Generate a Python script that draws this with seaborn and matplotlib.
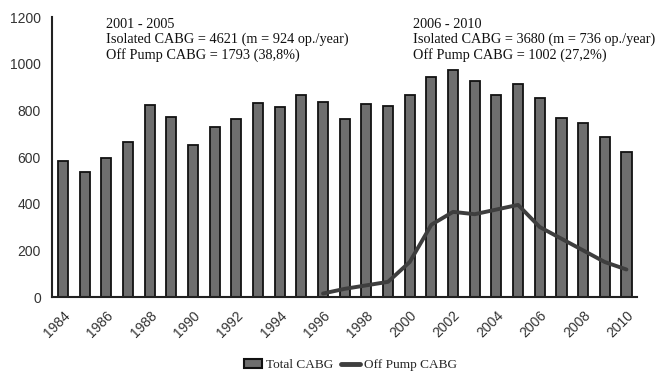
import numpy as np
import pandas as pd
import matplotlib.pyplot as plt
import seaborn as sns
from matplotlib.patches import Patch
from matplotlib.lines import Line2D
from matplotlib.ticker import MultipleLocator, FixedLocator

sns.set_theme(style="white")

years = list(range(1984, 2011))
total_cabg = [585, 535, 595, 665, 825, 770, 650, 730, 765, 830, 815, 868, 838,
              765, 828, 820, 868, 945, 972, 928, 865, 912, 855, 768, 745, 685, 622]
off_years = list(range(1996, 2011))
off_pump = [15, 35, 50, 65, 150, 310, 365, 355, 375, 395, 300, 250, 200, 150, 118]

note_left = "2001 - 2005\nIsolated CABG = 4621 (m = 924 op./year)\nOff Pump CABG = 1793 (38,8%)"
note_right = "2006 - 2010\nIsolated CABG = 3680 (m = 736 op./year)\nOff Pump CABG = 1002 (27,2%)"

df_bars = pd.DataFrame({"Year": years, "Total": total_cabg})
df_line = pd.DataFrame({"Year": off_years, "OffPump": off_pump})

fig = plt.figure(figsize=(6.68, 3.72), dpi=100)
ax = fig.add_axes([0.078, 0.2016, 0.876, 0.7524])

bar_col = "#6e6e6e"
line_col = "#3e3e3e"

sns.barplot(data=df_bars, x="Year", y="Total", native_scale=True, width=0.47,
            color=bar_col, edgecolor="#111111", linewidth=1.3, saturation=1, ax=ax)
sns.lineplot(data=df_line, x="Year", y="OffPump", color=line_col, linewidth=2.8,
             ax=ax, solid_joinstyle="round", solid_capstyle="round")

ax.set_xlim(1983.5, 2010.5)
ax.set_ylim(0, 1200)
ax.set_xlabel("")
ax.set_ylabel("")

ax.yaxis.set_major_locator(MultipleLocator(200))
ax.xaxis.set_major_locator(FixedLocator(years[::2]))
ax.xaxis.set_minor_locator(FixedLocator(np.arange(1983.5, 2011, 1)))
ax.set_xticklabels([str(y) for y in years[::2]], rotation=45, ha="right",
                   rotation_mode="anchor", fontsize=10, family="Liberation Sans",
                   color="#333333")
for lab in ax.get_yticklabels():
    lab.set_fontsize(10)
    lab.set_family("Liberation Sans")
    lab.set_color("#333333")

ax.tick_params(axis="x", which="major", length=0, pad=8)
ax.tick_params(axis="x", which="minor", direction="inout", length=7, width=1.5,
               color="#222222")
ax.tick_params(axis="y", which="major", direction="out", length=5, width=1.5,
               color="#222222", pad=3)

for side in ["top", "right"]:
    ax.spines[side].set_visible(False)
for side in ["left", "bottom"]:
    ax.spines[side].set_color("#222222")
    ax.spines[side].set_linewidth(1.5)

ax.text(1986.0, 1197, note_left, ha="left", va="top", fontsize=10.3,
        family="Liberation Serif", color="#111111", linespacing=1.2)
ax.text(2000.15, 1197, note_right, ha="left", va="top", fontsize=10.3,
        family="Liberation Serif", color="#111111", linespacing=1.2,
        clip_on=False)

handles = [Patch(facecolor=bar_col, edgecolor="#111111", linewidth=1.5),
           Line2D([0], [0], color=line_col, linewidth=3.5)]
fig.legend(handles, ["Total CABG", "Off Pump CABG"], loc="lower center",
           bbox_to_anchor=(0.524, -0.03), ncol=2, frameon=False,
           prop={"family": "Liberation Serif", "size": 9.5},
           handlelength=1.4, handleheight=0.6, handletextpad=0.3,
           columnspacing=0.6)

fig.savefig("out.png", dpi=100)
